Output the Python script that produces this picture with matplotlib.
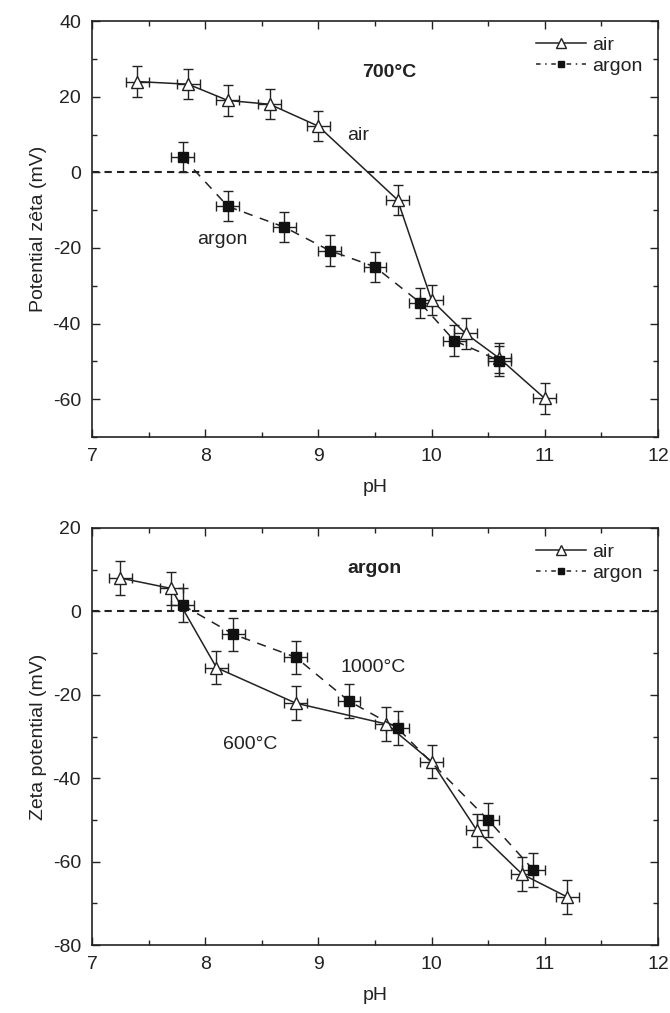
import numpy as np
import matplotlib.pyplot as plt
from matplotlib.ticker import MultipleLocator
from matplotlib.lines import Line2D

plt.rcParams['font.family'] = ['Liberation Sans', 'DejaVu Sans']
plt.rcParams['axes.unicode_minus'] = False

# top panel (700 C) : air vs argon
ph_air_top = [7.4, 7.85, 8.2, 8.57, 9.0, 9.7, 10.0, 10.3, 10.6, 11.0]
zeta_air_top = [24, 23.3, 19, 18, 12.2, -7.3, -33.8, -42.6, -49.2, -59.8]
ph_arg_top = [7.8, 8.2, 8.7, 9.1, 9.5, 9.9, 10.2, 10.6]
zeta_arg_top = [4, -9, -14.5, -20.7, -25, -34.5, -44.5, -49.8]

# bottom panel (argon) : 600 C vs 1000 C
ph_air_bot = [7.25, 7.7, 8.1, 8.8, 9.6, 10.0, 10.4, 10.8, 11.2]
zeta_air_bot = [8, 5.5, -13.5, -22, -27, -36, -52.5, -63, -68.5]
ph_arg_bot = [7.8, 8.25, 8.8, 9.27, 9.7, 10.5, 10.9]
zeta_arg_bot = [1.5, -5.5, -11, -21.5, -28, -50, -62]

xerr = 0.1
yerr = 4
ink = '#222222'
fs = 14

fig = plt.figure(figsize=(6.7, 10.13), dpi=100)
ax1 = fig.add_axes([0.1373, 0.5686, 0.8447, 0.4106])
ax2 = fig.add_axes([0.1373, 0.0671, 0.8447, 0.4117])

dashes = (0, (6, 5))


def draw(ax, xa, ya, xb, yb):
	ax.errorbar(xa, ya, xerr=xerr, yerr=yerr, color=ink, lw=1.1,
		marker='^', markersize=9, markerfacecolor='white', markeredgecolor=ink,
		markeredgewidth=1.0, ecolor=ink, elinewidth=1.0, capsize=3.5, zorder=3)
	ax.errorbar(xb, yb, xerr=xerr, yerr=yerr, color=ink, lw=1.1,
		linestyle=dashes, marker='s', markersize=6.5, markerfacecolor='#111111',
		markeredgecolor='#111111', ecolor=ink, elinewidth=1.0, capsize=3.5, zorder=3)
	ax.axhline(0, color=ink, lw=1.5, linestyle=(0, (3.5, 2.5)), zorder=1)
	ax.set_xlim(7, 12)
	ax.xaxis.set_major_locator(MultipleLocator(1))
	ax.xaxis.set_minor_locator(MultipleLocator(0.5))
	ax.yaxis.set_major_locator(MultipleLocator(20))
	ax.yaxis.set_minor_locator(MultipleLocator(10))
	ax.tick_params(which='both', direction='in', top=True, right=True,
		labelsize=fs, colors=ink, width=1.0)
	ax.tick_params(which='major', length=6, pad=8)
	ax.tick_params(which='minor', length=3.5)
	for s in ax.spines.values():
		s.set_linewidth(1.2)
		s.set_color(ink)
	ax.set_xlabel('pH', fontsize=fs, color=ink, labelpad=10)
	handles = [
		Line2D([], [], color=ink, lw=1.1, marker='^', markersize=7,
			markerfacecolor='white', markeredgecolor=ink),
		Line2D([], [], color=ink, lw=1.1, linestyle=(0, (3, 3, 1, 3)), marker='s',
			markersize=5, markerfacecolor='#111111', markeredgecolor='#111111'),
	]
	leg = ax.legend(handles, ['air', 'argon'], loc='upper right', frameon=False,
		fontsize=fs, handlelength=2.6, handletextpad=0.3, borderaxespad=0.4,
		labelspacing=0.15)
	for t in leg.get_texts():
		t.set_color(ink)


draw(ax1, ph_air_top, zeta_air_top, ph_arg_top, zeta_arg_top)
ax1.set_ylim(-70, 40)
ax1.set_ylabel('Potential zêta (mV)', fontsize=fs, color=ink, labelpad=4)
ax1.text(9.63, 26.5, '700°C', fontsize=fs, fontweight='bold', ha='center', va='center', color=ink)
ax1.text(9.35, 9.8, 'air', fontsize=fs, ha='center', va='center', color=ink)
ax1.text(8.15, -17.8, 'argon', fontsize=fs, ha='center', va='center', color=ink)

draw(ax2, ph_air_bot, zeta_air_bot, ph_arg_bot, zeta_arg_bot)
ax2.set_ylim(-80, 20)
ax2.set_ylabel('Zeta potential (mV)', fontsize=fs, color=ink, labelpad=4)
ax2.text(9.5, 10.3, 'argon', fontsize=fs, fontweight='bold', ha='center', va='center', color=ink)
ax2.text(9.48, -13.4, '1000°C', fontsize=fs, ha='center', va='center', color=ink)
ax2.text(8.4, -32, '600°C', fontsize=fs, ha='center', va='center', color=ink)

fig.savefig('out.png', dpi=100)
